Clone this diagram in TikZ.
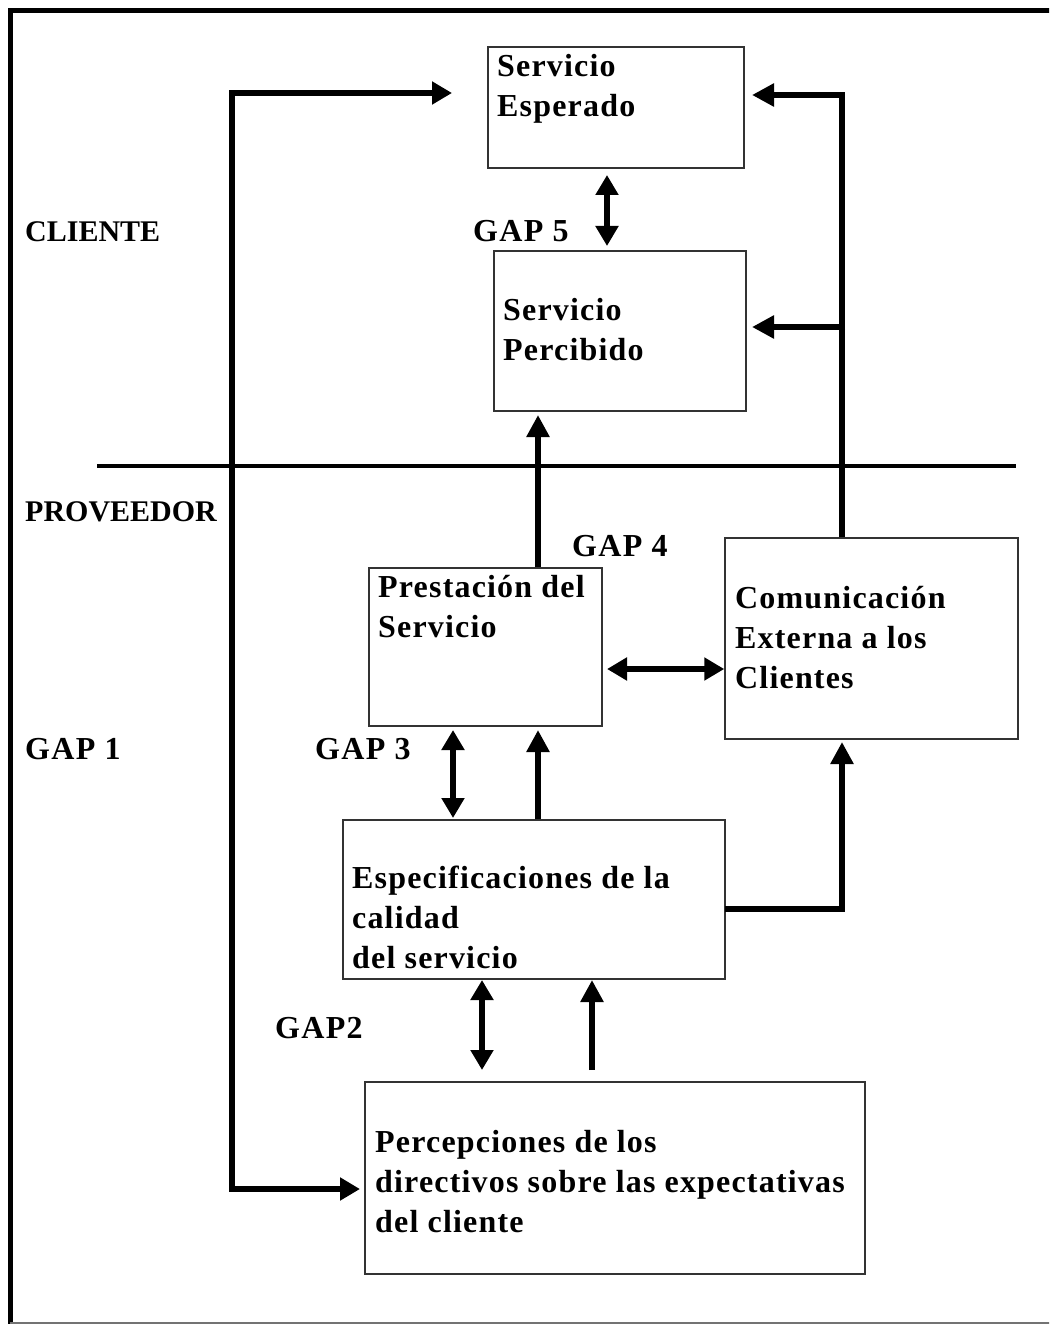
\documentclass[tikz,border=0pt]{standalone}
\usepackage{fontspec}
\setmainfont[LetterSpace=3.7]{Liberation Serif}
\newfontfamily\capsfont[LetterSpace=0]{Liberation Serif}
\newfontfamily\gapfont[LetterSpace=4]{Liberation Serif}
\usetikzlibrary{arrows.meta}
\begin{document}
\begin{tikzpicture}[x=1pt,y=-1pt,
  box/.style={draw=black!80, line width=1.5pt, inner sep=0pt, fill=none},
  lbl/.style={font=\fontsize{32}{40}\selectfont\bfseries, anchor=base west, inner sep=0pt, align=left},
  caps/.style={lbl, font=\fontsize{30}{40}\selectfont\capsfont\bfseries},
  gaplbl/.style={lbl, font=\fontsize{32}{40}\selectfont\gapfont\bfseries},
  flow/.style={line width=6pt, -{Triangle[length=22pt,width=22pt]}},
  both/.style={line width=6pt, {Triangle[length=20pt,width=22pt]}-{Triangle[length=20pt,width=22pt]}},
  frame/.style={line width=5pt},
  divider/.style={line width=4pt}
]
\useasboundingbox (0,0) rectangle (1049,1324);
\clip (0,0) rectangle (1049,1324);
% outer frame
\draw[frame] (1060,10.5) -- (10.5,10.5) -- (10.5,1330);
\draw[line width=1.5pt, black!55] (10,1323) -- (1060,1323);
% boxes
\node[box, minimum width=256pt, minimum height=121pt] (esp) at (616,107.5) {};
\node[box, minimum width=252pt, minimum height=160pt] (per) at (620,331) {};
\node[box, minimum width=233pt, minimum height=158pt] (pre) at (485.5,647) {};
\node[box, minimum width=293pt, minimum height=201pt] (com) at (871.5,638.5) {};
\node[box, minimum width=382pt, minimum height=159pt] (spe) at (534,899.5) {};
\node[box, minimum width=500pt, minimum height=192pt] (pdi) at (615,1178) {};
% texts (base anchor = baseline of the last line)
\node[lbl] (tesp) at (497,117) {Servicio\\Esperado};
\node[lbl] (tper) at (503,360) {Servicio\\Percibido};
\node[lbl] (tpre) at (378,637) {Prestación del\\Servicio};
\node[lbl] (tcom) at (735,688) {Comunicación\\Externa a los\\Clientes};
\node[lbl] (tspe) at (352,968) {Especificaciones de la\\calidad\\del servicio};
\node[lbl] (tpdi) at (375,1232) {Percepciones de los\\directivos sobre las expectativas\\del cliente};
\node[caps] (cli) at (25,241) {CLIENTE};
\node[caps] (prov) at (25,521) {PROVEEDOR};
\node[gaplbl] (gap5) at (473,241) {GAP 5};
\node[gaplbl] (gap4) at (572,556) {GAP 4};
\node[gaplbl] (gap1) at (25,759) {GAP 1};
\node[gaplbl] (gap3) at (315,759) {GAP 3};
\node[gaplbl] (gap2) at (275,1038) {GAP2};
% divider
\coordinate (dl) at (97,466);
\coordinate (dr) at (1016,466);
\draw[divider] (dl) -- (dr);
% GAP 1 loop
\coordinate (g1top) at (452,93);
\coordinate (g1corner) at (232,93);
\coordinate (g1bot) at (360,1189);
\draw[both] (g1top) -- (g1corner) |- (g1bot);
% communication feedback
\coordinate (xr) at (842,0);
\coordinate (esptip) at (752,95);
\coordinate (brstart) at (845,327);
\coordinate (pertip) at (752,327);
\draw[flow] (com.north -| xr) |- (esptip);
\draw[flow] (brstart) -- (pertip);
% GAP 5
\coordinate (g5a) at (607,175);
\coordinate (g5b) at (607,246);
\draw[both] (g5a) -- (g5b);
% prestacion -> percibido
\coordinate (xa) at (538,0);
\coordinate (pertipb) at (538,415);
\draw[flow] (pre.north -| xa) -- (pertipb);
% prestacion <-> comunicacion
\coordinate (hl) at (607,669);
\draw[both] (hl) -- (com.west |- hl);
% GAP 3
\coordinate (g3a) at (453,730);
\coordinate (g3b) at (453,818);
\draw[both] (g3a) -- (g3b);
% especificaciones -> prestacion
\coordinate (pretip) at (538,730);
\draw[flow] (spe.north -| xa) -- (pretip);
% especificaciones -> comunicacion
\coordinate (sr) at (725,909);
\coordinate (comtip) at (842,742);
\draw[flow] (sr) -| (comtip);
% GAP 2
\coordinate (g2a) at (482,980);
\coordinate (g2b) at (482,1070);
\draw[both] (g2a) -- (g2b);
% percepciones -> especificaciones
\coordinate (pd) at (592,1070);
\coordinate (spetip) at (592,980);
\draw[flow] (pd) -- (spetip);
\end{tikzpicture}
\end{document}
